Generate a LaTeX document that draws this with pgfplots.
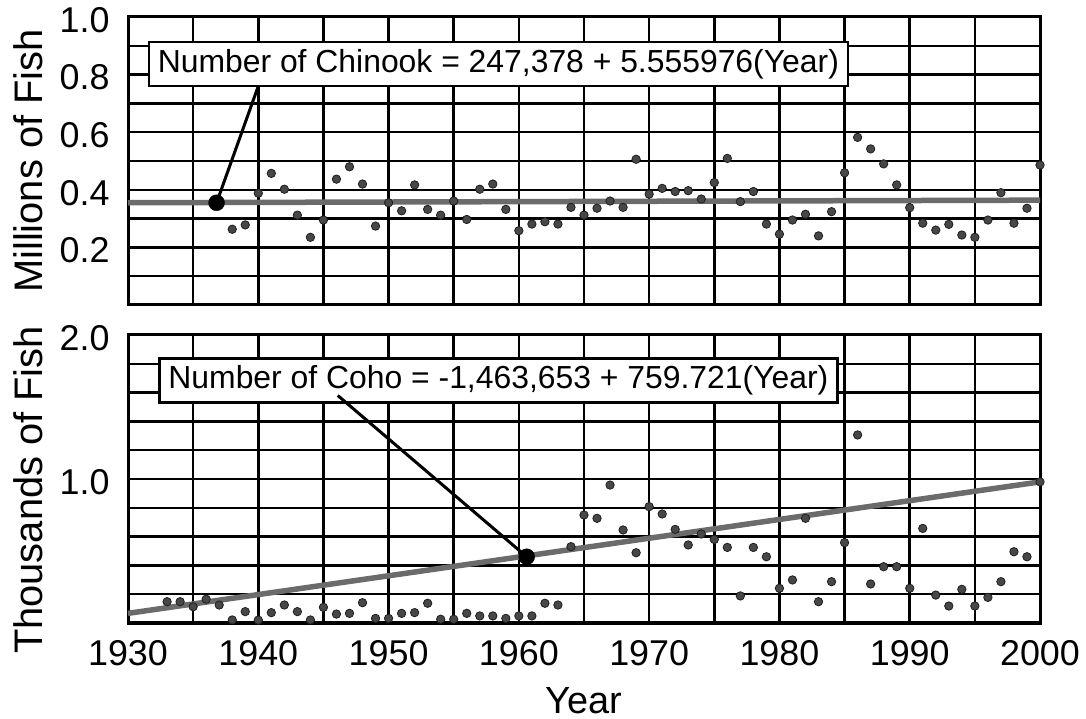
\documentclass[border=0pt]{standalone}
\usepackage{fontspec}
\setmainfont{Liberation Sans}
\usepackage{pgfplots}
\pgfplotsset{compat=1.18}
\tikzset{callout/.style={draw=black, line width=2.5bp, fill=white, inner xsep=9bp, inner ysep=0pt, minimum height=44bp, font=\fontsize{32}{32}\selectfont}}
\begin{document}
\begin{tikzpicture}
\useasboundingbox (0bp,0bp) rectangle (1086bp,719bp);
\pgfplotsset{
 panel/.style={
  scale only axis, width=912bp, height=288bp,
  xmin=1930, xmax=2000,
  xtick={1930,1935,...,2000},
  grid=major,
  major grid style={black, line width=2.5bp},
  axis line style={black, line width=3bp},
  major tick length=0pt,
  tick label style={font=\fontsize{36}{36}\selectfont},
  yticklabel style={xshift=-15bp, yshift=-3bp},
  /pgf/number format/assume math mode=true,
  ylabel style={font=\fontsize{40}{40}\selectfont, anchor=center},
  clip=false,
 },
 dots/.style={only marks, mark=*, mark size=4.2bp, mark options={fill=black!72, draw=black!88, line width=0.8bp}},
 fit/.style={black!58, line width=5.5bp, no marks},
}
% ---------------- Chinook ----------------
\begin{axis}[panel, at={(128bp,414bp)}, anchor=south west,
  ymin=0, ymax=1,
  ytick={0,0.1,0.2,0.3,0.4,0.5,0.6,0.7,0.8,0.9,1.0},
  yticklabels={,,0.2,,0.4,,0.6,,0.8,,1.0},
  xticklabels={},
  ylabel={Millions of Fish},
  ylabel style={at={(axis description cs:-0.1096,0.5)}}]
\addplot[fit] coordinates {(1930,0.355) (2000,0.364)};
\addplot[dots] coordinates {
(1938,0.263) (1939,0.278) (1940,0.388) (1941,0.457) (1942,0.402) (1943,0.312)
(1944,0.235) (1945,0.295) (1946,0.437) (1947,0.480) (1948,0.420) (1949,0.274)
(1950,0.355) (1951,0.327) (1952,0.417) (1953,0.332) (1954,0.312) (1955,0.361)
(1956,0.297) (1957,0.402) (1958,0.420) (1959,0.332) (1960,0.258) (1961,0.281)
(1962,0.289) (1963,0.281) (1964,0.339) (1965,0.312) (1966,0.336) (1967,0.361)
(1968,0.339) (1969,0.506) (1970,0.385) (1971,0.405) (1972,0.394) (1973,0.397)
(1974,0.368) (1975,0.425) (1976,0.509) (1977,0.359) (1978,0.394) (1979,0.281)
(1980,0.246) (1981,0.295) (1982,0.315) (1983,0.240) (1984,0.324) (1985,0.459)
(1986,0.582) (1987,0.542) (1988,0.490) (1989,0.417) (1990,0.338) (1991,0.284)
(1992,0.260) (1993,0.280) (1994,0.243) (1995,0.235) (1996,0.295) (1997,0.390)
(1998,0.284) (1999,0.336) (2000,0.486)};
\addplot[only marks, mark=*, mark size=8bp, black] coordinates {(1936.8,0.355)};
\node[callout] at (axis cs:1958.43,0.837) {Number of Chinook = 247,378 + 5.555976(Year)};
\draw[black, line width=3bp] (axis cs:1940,0.76) -- (axis cs:1936.8,0.355);
\end{axis}
% ---------------- Coho ----------------
\begin{axis}[panel, at={(128bp,96bp)}, anchor=south west,
  ymin=0, ymax=2,
  ytick={0,0.2,0.4,0.6,0.8,1.0,1.2,1.4,1.6,1.8,2.0},
  yticklabels={,,,,,1.0,,,,,2.0},
  xticklabels={1930,,1940,,1950,,1960,,1970,,1980,,1990,,2000},
  xticklabel style={yshift=-14bp},
  ylabel={Thousands of Fish},
  ylabel style={at={(axis description cs:-0.1096,0.462)}},
  xlabel={Year},
  xlabel style={font=\fontsize{38}{38}\selectfont, inner sep=0pt, at={(axis description cs:0.5,-0.268)}, anchor=center}]
\addplot[fit] coordinates {(1930,0.067) (2000,0.98)};
\addplot[dots] coordinates {
(1933,0.148) (1934,0.148) (1935,0.113) (1936,0.165) (1937,0.125) (1938,0.021)
(1939,0.079) (1940,0.020) (1941,0.072) (1942,0.125) (1943,0.079) (1944,0.021)
(1945,0.109) (1946,0.062) (1947,0.067) (1948,0.141) (1949,0.032) (1950,0.032)
(1951,0.067) (1952,0.072) (1953,0.137) (1954,0.026) (1955,0.026) (1956,0.067)
(1957,0.049) (1958,0.049) (1959,0.032) (1960,0.049) (1961,0.049) (1962,0.137)
(1963,0.125) (1964,0.530) (1965,0.750) (1966,0.727) (1967,0.958) (1968,0.646)
(1969,0.488) (1970,0.808) (1971,0.757) (1972,0.650) (1973,0.542) (1974,0.618)
(1975,0.580) (1976,0.525) (1977,0.188) (1978,0.525) (1979,0.460) (1980,0.241)
(1981,0.299) (1982,0.727) (1983,0.148) (1984,0.287) (1985,0.558) (1986,1.306)
(1987,0.271) (1988,0.391) (1989,0.391) (1990,0.241) (1991,0.657) (1992,0.194)
(1993,0.118) (1994,0.234) (1995,0.118) (1996,0.178) (1997,0.287) (1998,0.495)
(1999,0.460) (2000,0.980)};
\addplot[only marks, mark=*, mark size=8bp, black] coordinates {(1960.6,0.46)};
\node[callout] at (axis cs:1958.43,1.684) {Number of Coho = -1,463,653 + 759.721(Year)};
\draw[black, line width=3bp] (axis cs:1946.1,1.58) -- (axis cs:1960.6,0.46);
\end{axis}
\end{tikzpicture}
\end{document}
